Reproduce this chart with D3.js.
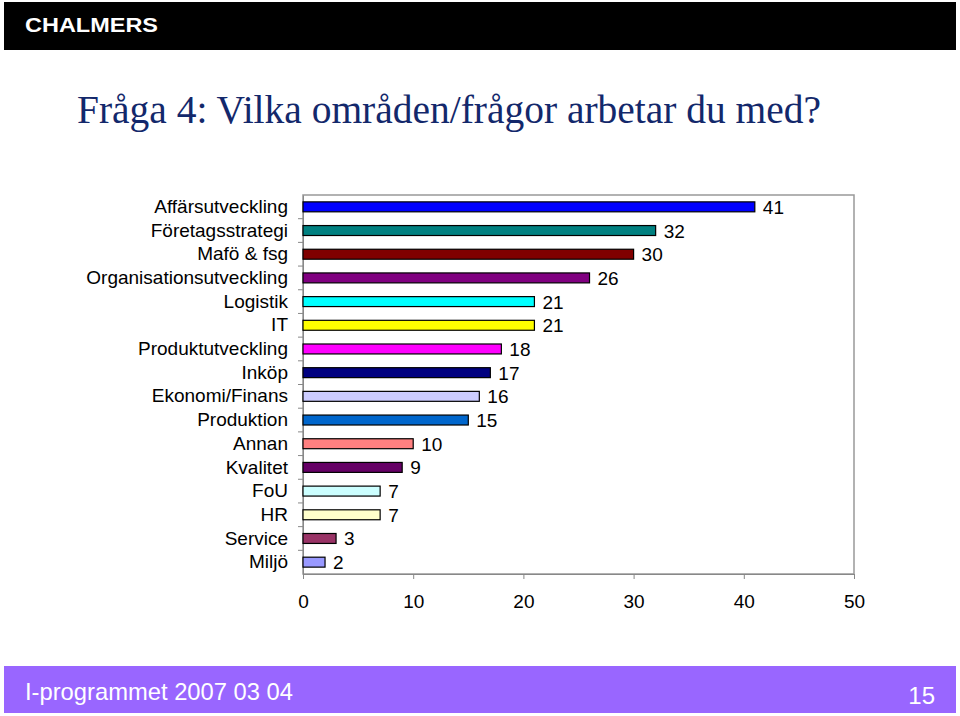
<!DOCTYPE html>
<html><head><meta charset="utf-8">
<script src="https://cdn.jsdelivr.net/npm/d3@7"></script>
<style>body{margin:0;background:#fff;}svg{display:block;}</style>
</head><body>
<svg id="c" width="960" height="716"></svg>
<script>
const categories = ["Affärsutveckling","Företagsstrategi","Mafö & fsg","Organisationsutveckling","Logistik","IT","Produktutveckling","Inköp","Ekonomi/Finans","Produktion","Annan","Kvalitet","FoU","HR","Service","Miljö"];
const values = [41,32,30,26,21,21,18,17,16,15,10,9,7,7,3,2];
const colors = ["#0000ff","#008080","#800000","#800080","#00ffff","#ffff00","#ff00ff","#000080","#ccccff","#0066cc","#ff8080","#660066","#ccffff","#ffffcc","#993366","#9999ff"];
const xTicks = [0,10,20,30,40,50];

const FONT = "Liberation Sans, Arial, sans-serif";
const svg = d3.select("#c");
// header
svg.append("rect").attr("x",4).attr("y",2).attr("width",952).attr("height",48).attr("fill","#000");
svg.append("text").attr("x",25).attr("y",32).attr("fill","#fff").attr("font-family",FONT)
  .attr("font-weight","bold").attr("font-size",21).attr("textLength",133).attr("lengthAdjust","spacingAndGlyphs").text("CHALMERS");
// title
svg.append("text").attr("x",77).attr("y",123).attr("fill","#13286b").attr("font-family","Liberation Serif, Times New Roman, serif")
  .attr("font-size",39.5).attr("textLength",744).attr("lengthAdjust","spacingAndGlyphs").text("Fråga 4: Vilka områden/frågor arbetar du med?");
// footer
svg.append("rect").attr("x",4).attr("y",666).attr("width",952).attr("height",47).attr("fill","#9966ff");
svg.append("text").attr("x",25).attr("y",700).attr("fill","#fff").attr("font-family",FONT)
  .attr("font-size",24).attr("textLength",268).attr("lengthAdjust","spacingAndGlyphs").text("I-programmet 2007 03 04");
svg.append("text").attr("x",935).attr("y",704).attr("text-anchor","end").attr("fill","#fff").attr("font-family",FONT)
  .attr("font-size",24).text("15");

const L=303, R=854, T=195, B=574;
const x = d3.scaleLinear().domain([0,50]).range([L,R]);
const y = d3.scaleBand().domain(categories).range([T,B]).paddingInner(0.58).paddingOuter(0.29);

// frame
svg.append("rect").attr("x",L).attr("y",T).attr("width",R-L).attr("height",B-T).attr("fill","none").attr("stroke","#999").attr("stroke-width",1.5);

// x axis
const xa = svg.append("g").attr("transform",`translate(0,${B})`).call(d3.axisBottom(x).tickValues(xTicks).tickSize(5).tickPadding(16));
xa.select(".domain").attr("stroke","#888");
xa.selectAll(".tick line").attr("stroke","#888");
xa.selectAll("text").attr("font-family",FONT).attr("font-size",19).attr("fill","#000");

// y axis
const yb = d3.scaleBand().domain(categories).range([T,B]);
const ya = svg.append("g").attr("transform",`translate(${L},0)`).call(d3.axisLeft(y).tickSize(0).tickPadding(15));
ya.select(".domain").attr("stroke","#888");
ya.selectAll("text").attr("font-family",FONT).attr("font-size",19).attr("fill","#000");
// tick marks at band boundaries
svg.append("g").selectAll("line").data(categories.slice(1)).join("line")
  .attr("x1",L-5).attr("x2",L).attr("y1",d=>yb(d)).attr("y2",d=>yb(d)).attr("stroke","#888");

// bars
svg.append("g").selectAll("rect").data(categories).join("rect")
  .attr("x",x(0)).attr("y",d=>y(d)).attr("height",y.bandwidth())
  .attr("width",(d,i)=>x(values[i])-x(0)).attr("fill",(d,i)=>colors[i]).attr("stroke","#000").attr("stroke-width",1.2);

// value labels
svg.append("g").selectAll("text").data(categories).join("text")
  .attr("x",(d,i)=>x(values[i])+8).attr("y",d=>y(d)+y.bandwidth()/2+7)
  .attr("font-family",FONT).attr("font-size",19).attr("fill","#000")
  .text((d,i)=>values[i]);
</script>
</body></html>
